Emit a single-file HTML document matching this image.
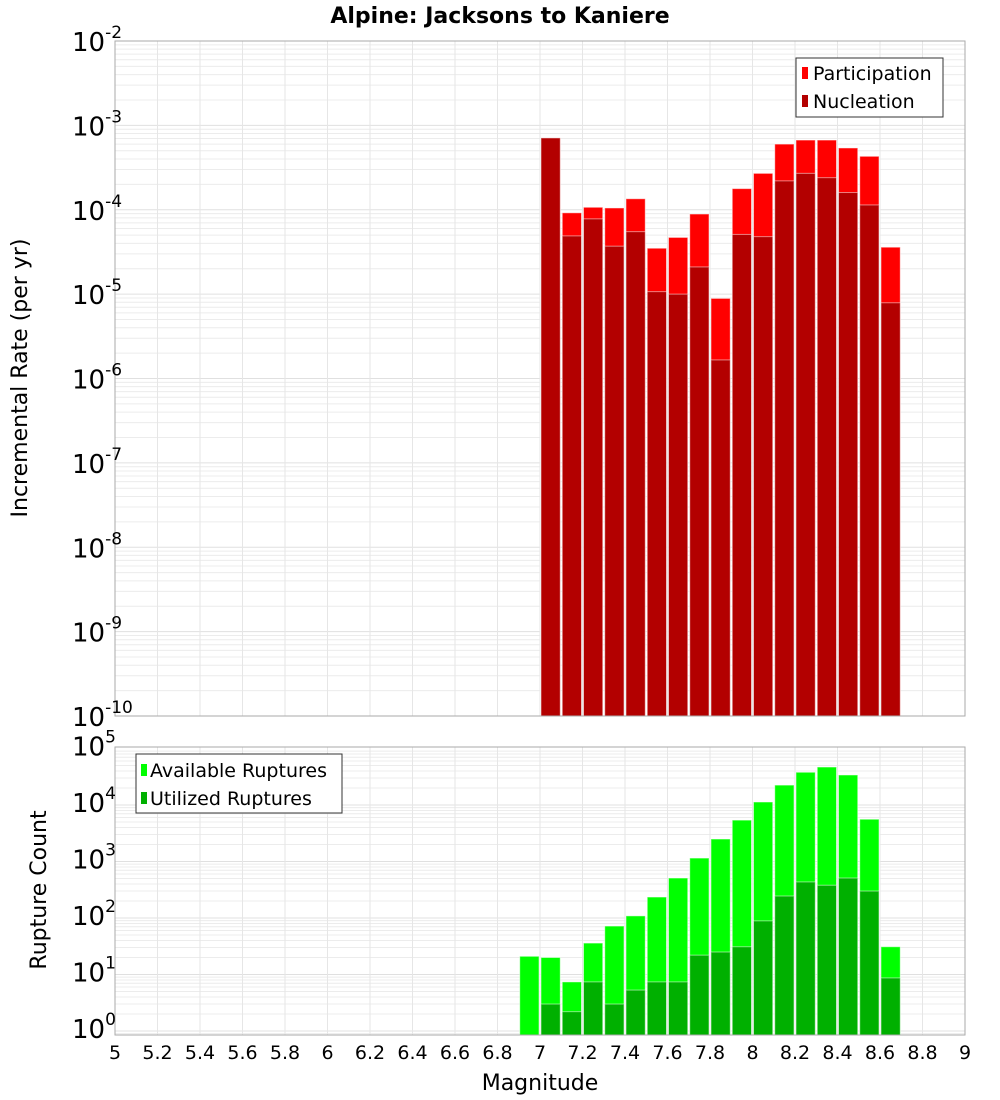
<!DOCTYPE html>
<html><head><meta charset="utf-8"><style>
body{margin:0;background:#fff;}
svg{display:block;font-family:"Liberation Sans","DejaVu Sans",sans-serif;}
</style></head><body>
<svg id="chart" width="1000" height="1100" viewBox="0 0 1000 1100" xmlns="http://www.w3.org/2000/svg">
<text x="500" y="23" text-anchor="middle" font-size="22" font-weight="bold" font-family="DejaVu Sans, sans-serif">Alpine: Jacksons to Kaniere</text>
<g id="top"></g><g id="bot"></g>
<text transform="translate(27,378) rotate(-90)" text-anchor="middle" font-size="22" font-family="DejaVu Sans, sans-serif">Incremental Rate (per yr)</text>
<text transform="translate(46,890) rotate(-90)" text-anchor="middle" font-size="22" font-family="DejaVu Sans, sans-serif">Rupture Count</text>
<text x="540" y="1090" text-anchor="middle" font-size="22" font-family="DejaVu Sans, sans-serif">Magnitude</text>
<g>
<rect x="796" y="58" width="147" height="59" fill="#fff" stroke="#333"/>
<rect x="802" y="67" width="6" height="12" fill="#ff0000"/>
<text x="813" y="80" font-size="19" font-family="DejaVu Sans, sans-serif">Participation</text>
<rect x="802" y="95" width="6" height="12" fill="#b30000"/>
<text x="813" y="108" font-size="19" font-family="DejaVu Sans, sans-serif">Nucleation</text>
</g>
<g>
<rect x="136" y="754" width="206" height="59" fill="#fff" stroke="#333"/>
<rect x="141" y="764" width="6" height="12" fill="#00ff00"/>
<text x="150" y="777" font-size="19" font-family="DejaVu Sans, sans-serif">Available Ruptures</text>
<rect x="141" y="792" width="6" height="12" fill="#00b000"/>
<text x="150" y="805" font-size="19" font-family="DejaVu Sans, sans-serif">Utilized Ruptures</text>
</g>
</svg>
<script>
const mags = [6.9,7.0,7.1,7.2,7.3,7.4,7.5,7.6,7.7,7.8,7.9,8.0,8.1,8.2,8.3,8.4,8.5,8.6];
const participation = [0,7.1e-4,9.2e-5,1.07e-4,1.05e-4,1.35e-4,3.5e-5,4.7e-5,8.9e-5,8.9e-6,1.78e-4,2.7e-4,6.0e-4,6.7e-4,6.7e-4,5.4e-4,4.3e-4,3.6e-5];
const nucleation = [0,7.1e-4,4.9e-5,7.8e-5,3.7e-5,5.5e-5,1.07e-5,1.0e-5,2.1e-5,1.66e-6,5.1e-5,4.8e-5,2.2e-4,2.7e-4,2.4e-4,1.6e-4,1.14e-4,7.9e-6];
const available = [21,20,7.4,36,72,109,235,510,1150,2500,5400,11300,22500,38000,47000,34000,5600,31];
const utilized = [0,3,2.2,7.4,3,5.3,7.4,7.4,22,25,31,89,245,435,380,510,300,8.7];
const xTicks = ["5","5.2","5.4","5.6","5.8","6","6.2","6.4","6.6","6.8","7","7.2","7.4","7.6","7.8","8","8.2","8.4","8.6","8.8","9"];
const topExps = [-2,-3,-4,-5,-6,-7,-8,-9,-10];
const botExps = [5,4,3,2,1,0];

const NS="http://www.w3.org/2000/svg";
const X0=115,X1=965;
const xs=m=>X0+(m-5)/4*(X1-X0);
const topY=v=>41+(-2-Math.log10(v))*(675/8);
const botY=v=>1031-Math.log10(v)*56.5;
function el(p,t,a){const e=document.createElementNS(NS,t);for(const k in a)e.setAttribute(k,a[k]);p.appendChild(e);return e;}

function panel(g,yT,yB,yf,lo,hi,name){
  el(g,'rect',{x:X0,y:yT,width:X1-X0,height:yB-yT,fill:'#fff'});
  for(let d=lo;d<hi;d++)for(let k=1;k<10;k++){const y=yf(k*Math.pow(10,d));if(y<yT||y>yB)continue;
    const l=el(g,'line',{x1:X0,x2:X1,y1:y,y2:y,stroke:k==1?'#e0e0e0':'#ececec','stroke-width':1});
    }
  xTicks.forEach(t=>{const x=xs(+t);const l=el(g,'line',{x1:x,x2:x,y1:yT,y2:yB,stroke:'#e6e6e6'});
    });
}
function bars(g,vals,yf,yB,color,name){
  mags.forEach((m,i)=>{const v=vals[i];if(!(v>0))return;const y=Math.max(yf(v),0);
    const r=el(g,'rect',{x:xs(m)+1,y:y,width:xs(m+0.1)-xs(m)-2,height:yB-y,fill:color,stroke:'#fff','stroke-opacity':0.5,'stroke-width':1});
    });
}
const gt=document.getElementById('top'),gb=document.getElementById('bot');
panel(gt,41,716,topY,-10,-2,'top');
bars(gt,participation,topY,716,'#ff0000','participation');
bars(gt,nucleation,topY,716,'#b30000','nucleation');
el(gt,'rect',{x:X0,y:41,width:X1-X0,height:675,fill:'none',stroke:'#aaa'});
topExps.forEach(e=>{const y=topY(Math.pow(10,e));const t=el(gt,'text',{x:72,y:y+10,'font-size':26,'font-family':'DejaVu Sans, sans-serif'});
  
  t.textContent='10';const s=el(t,'tspan',{dy:-13,'font-size':17});s.textContent=String(e);});
panel(gb,747,1035,botY,-1,5,'bottom');
bars(gb,available,botY,1035,'#00ff00','available');
bars(gb,utilized,botY,1035,'#00b000','utilized');
el(gb,'rect',{x:X0,y:747,width:X1-X0,height:288,fill:'none',stroke:'#aaa'});
botExps.forEach(e=>{const y=botY(Math.pow(10,e));const t=el(gb,'text',{x:72,y:y+7,'font-size':26,'font-family':'DejaVu Sans, sans-serif'});
  
  t.textContent='10';const s=el(t,'tspan',{dy:-13,'font-size':17});s.textContent=String(e);});
xTicks.forEach(tk=>{const t=el(gb,'text',{x:xs(+tk),y:1059,'text-anchor':'middle','font-size':19,'font-family':'DejaVu Sans, sans-serif'});
  t.textContent=tk;});
</script>
</body></html>
